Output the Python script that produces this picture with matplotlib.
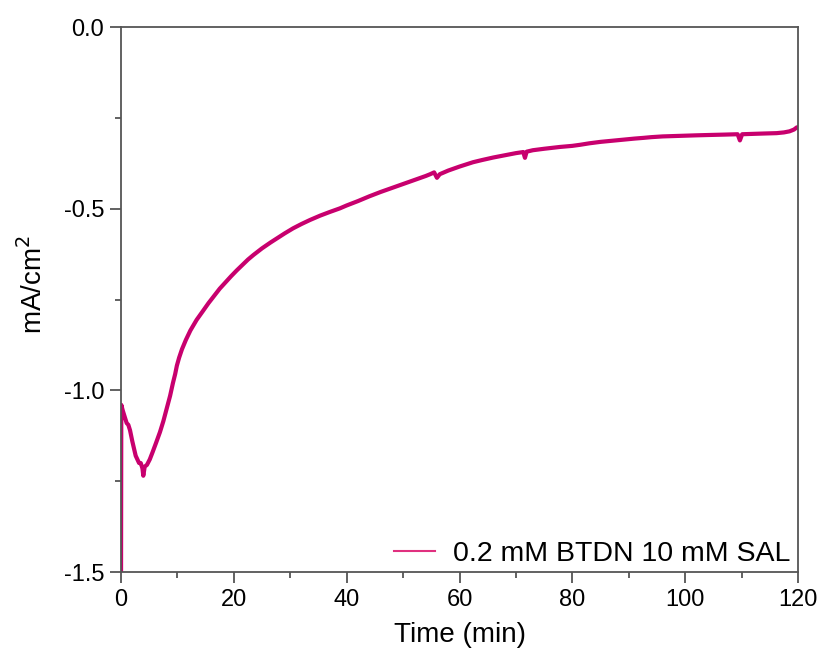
import matplotlib
matplotlib.use("Agg")
import matplotlib.pyplot as plt
from matplotlib.ticker import MultipleLocator

plt.rcParams['font.family'] = ['Liberation Sans', 'DejaVu Sans']

time_min = [0, 0.05, 0.3, 0.6, 1.0, 1.3, 1.6, 2.0, 2.3, 2.6, 2.9, 3.2, 3.5, 3.8, 3.95,
            4.2, 4.6, 5.1, 5.6, 6.2, 6.9, 7.5, 8.1, 8.7, 9.2, 9.6, 9.9, 10.3, 10.8,
            11.5, 12.3, 13.4, 14.5, 15.5, 16.5, 17.5, 18.5, 19.5, 20.5, 21.5, 22.5,
            23.5, 25, 26.5, 28, 29, 30.5, 32, 33.5, 35.3, 37, 38.8, 40, 42, 44, 46,
            48, 50, 52, 54, 54.8, 55.5, 56, 56.5, 58, 60, 62.4, 64, 66, 68, 70, 71.3,
            71.6, 71.9, 73, 75, 77.8, 80, 81.4, 83, 85, 87, 89, 91, 92.6, 94, 96, 98,
            100, 102, 104.4, 107, 109.3, 109.7, 110.1, 112, 114, 116.2, 117.5, 118.5,
            119.3, 119.8, 120]
current = [-1.55, -1.04, -1.055, -1.07, -1.09, -1.095, -1.11, -1.14, -1.16, -1.18, -1.19,
           -1.2, -1.2, -1.215, -1.235, -1.21, -1.205, -1.19, -1.17, -1.145, -1.115, -1.085,
           -1.05, -1.015, -0.98, -0.955, -0.932, -0.91, -0.887, -0.861, -0.835, -0.806,
           -0.782, -0.76, -0.74, -0.72, -0.703, -0.686, -0.67, -0.655, -0.64, -0.627,
           -0.609, -0.593, -0.578, -0.568, -0.554, -0.542, -0.531, -0.519, -0.509, -0.499,
           -0.491, -0.479, -0.466, -0.454, -0.443, -0.432, -0.421, -0.41, -0.405, -0.40,
           -0.415, -0.405, -0.395, -0.384, -0.372, -0.366, -0.359, -0.353, -0.347,
           -0.344, -0.36, -0.343, -0.339, -0.335, -0.33, -0.327, -0.324, -0.32,
           -0.316, -0.313, -0.31, -0.307, -0.305, -0.303, -0.301, -0.30, -0.299,
           -0.298, -0.297, -0.296, -0.295, -0.312, -0.295, -0.294, -0.293, -0.292,
           -0.29, -0.287, -0.282, -0.276, -0.276]

series_label = "0.2 mM BTDN 10 mM SAL"
line_color = "#C8006E"

fig = plt.figure(figsize=(8.21, 6.60), dpi=100)
ax = fig.add_axes([0.1474, 0.1333, 0.8246, 0.8257])

ax.plot(time_min, current, color=line_color, lw=3.0, label=series_label)

ax.set_xlim(0, 120)
ax.set_ylim(-1.5, 0.0)
ax.xaxis.set_major_locator(MultipleLocator(20))
ax.xaxis.set_minor_locator(MultipleLocator(10))
ax.yaxis.set_major_locator(MultipleLocator(0.5))
ax.yaxis.set_minor_locator(MultipleLocator(0.25))
ax.yaxis.set_major_formatter(matplotlib.ticker.FormatStrFormatter('%.1f'))

spine_color = "#555555"
for s in ax.spines.values():
    s.set_color(spine_color)
    s.set_linewidth(1.3)
ax.tick_params(which='major', direction='out', length=8, width=1.3, color=spine_color,
               labelsize=17, pad=4)
ax.tick_params(which='minor', direction='out', length=4.5, width=1.3, color=spine_color)

ax.set_xlabel("Time (min)", fontsize=20, labelpad=8)
ax.set_ylabel("mA/cm$^2$", fontsize=20)
ax.yaxis.set_label_coords(-0.108, 0.527)

leg = ax.legend(loc='lower right', frameon=False, fontsize=20.5, handlelength=1.45,
                handletextpad=0.65, borderaxespad=0.0, bbox_to_anchor=(1.006, -0.012))
for h in leg.get_lines():
    h.set_linewidth(1.5)
    h.set_color("#E0307F")

fig.savefig("out.png", dpi=100)
